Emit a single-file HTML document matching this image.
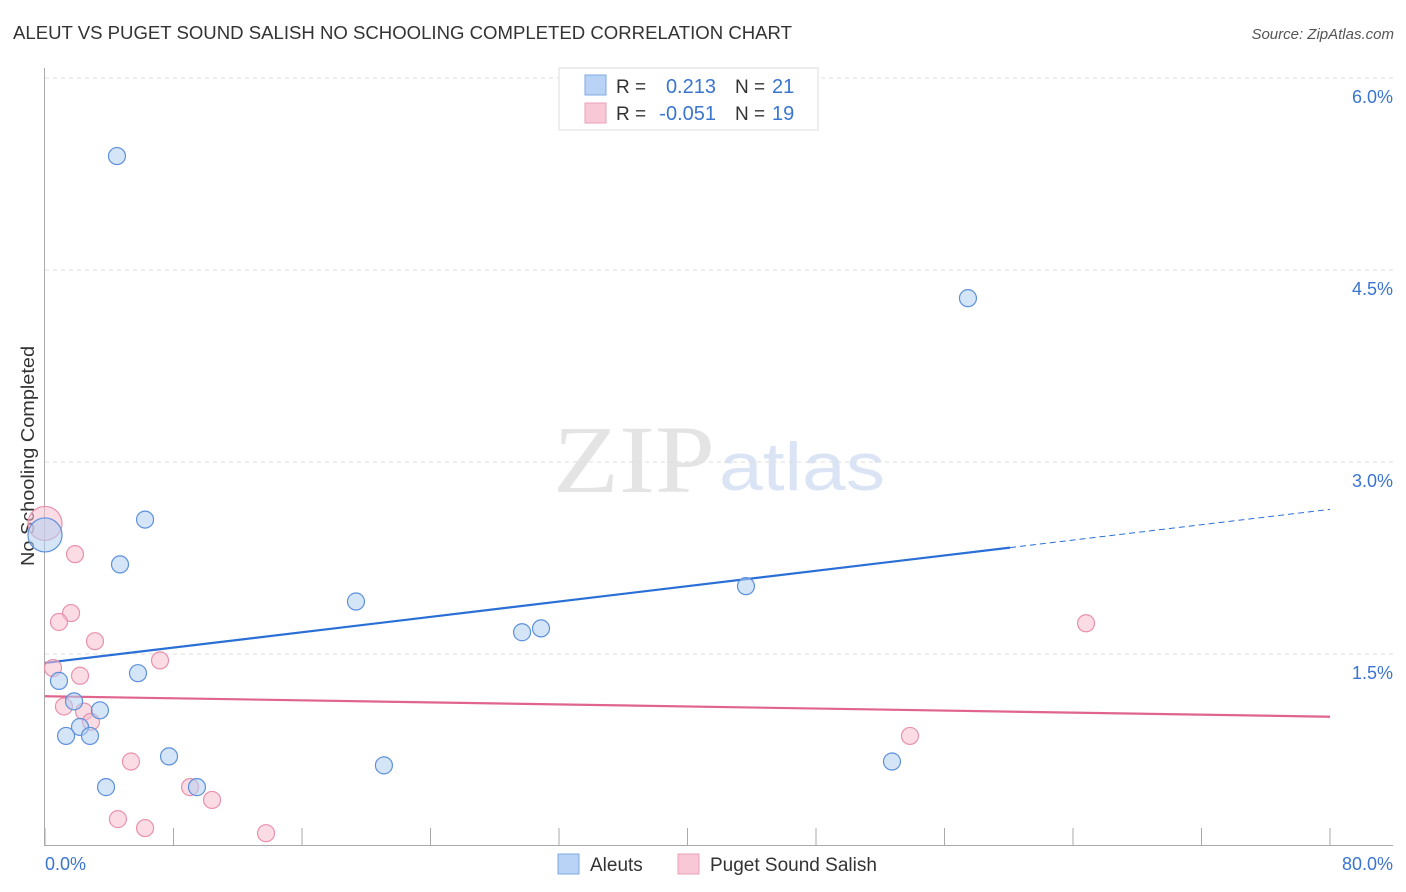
<!DOCTYPE html>
<html><head><meta charset="utf-8"><style>
body{margin:0;background:#fff;font-family:"Liberation Sans",sans-serif}
svg{display:block}
</style></head><body>
<svg width="1406" height="892" viewBox="0 0 1406 892">
<text x="13" y="39" font-size="18" fill="#333" textLength="779" lengthAdjust="spacingAndGlyphs">ALEUT VS PUGET SOUND SALISH NO SCHOOLING COMPLETED CORRELATION CHART</text>
<text x="1394" y="39" font-size="15" font-style="italic" fill="#555" text-anchor="end">Source: ZipAtlas.com</text>
<g opacity="0.9">
<text x="553" y="492" font-family="Liberation Serif,serif" font-size="96" fill="#e2e2e2" textLength="162" lengthAdjust="spacingAndGlyphs">ZIP</text>
<text x="719" y="490" font-size="68" fill="#d6e2f4" textLength="166" lengthAdjust="spacingAndGlyphs">atlas</text>
</g>
<g id="grid"></g>
<line x1="44.5" y1="68" x2="44.5" y2="846" stroke="#aaa"/>
<line x1="44" y1="845.5" x2="1393" y2="845.5" stroke="#aaa"/>
<text transform="translate(34,456) rotate(-90)" font-size="18" fill="#333" text-anchor="middle" textLength="220" lengthAdjust="spacingAndGlyphs">No Schooling Completed</text>
<text x="45" y="870" font-size="18" fill="#3a75d0">0.0%</text>
<text x="1393" y="870" font-size="18" fill="#3a75d0" text-anchor="end">80.0%</text>
<g id="lines"></g>
<g id="points"></g>
<g>
<rect x="559" y="68" width="259" height="62" fill="#fff" stroke="#ddd"/>
<rect x="585" y="75" width="21" height="20" fill="#b8d3f5" stroke="#7fa8e0"/>
<rect x="585" y="103" width="21" height="20" fill="#f9c8d6" stroke="#eaa0b6"/>
<text x="616" y="93" font-size="19" fill="#333">R = </text><text x="716" y="93" font-size="20" fill="#3a75d0" text-anchor="end">0.213</text>
<text x="735" y="93" font-size="19" fill="#333">N = </text><text x="772" y="93" font-size="20" fill="#3a75d0">21</text>
<text x="616" y="120" font-size="19" fill="#333">R = </text><text x="716" y="120" font-size="20" fill="#3a75d0" text-anchor="end">-0.051</text>
<text x="735" y="120" font-size="19" fill="#333">N = </text><text x="772" y="120" font-size="20" fill="#3a75d0">19</text>
</g>
<g>
<rect x="558" y="854" width="21" height="20" fill="#b8d3f5" stroke="#7fa8e0"/>
<text x="590" y="871" font-size="19" fill="#333">Aleuts</text>
<rect x="678" y="854" width="21" height="20" fill="#f9c8d6" stroke="#eaa0b6"/>
<text x="710" y="871" font-size="19" fill="#333">Puget Sound Salish</text>
</g>
</svg>
<script>
const yTicks=[1.5,3.0,4.5,6.0];
const yTickLabels=["1.5%","3.0%","4.5%","6.0%"];
const xTicks=[0,8,16,24,32,40,48,56,64,72,80];
const aleutX=[4.48,6.23,4.67,19.36,29.70,30.88,43.64,57.46,0.87,1.81,3.42,5.79,2.18,1.31,2.80,7.72,3.80,9.46,21.10,52.73,0];
const aleutY=[5.39,2.55,2.20,1.91,1.67,1.70,2.03,4.28,1.29,1.13,1.06,1.35,0.93,0.86,0.86,0.70,0.46,0.46,0.63,0.66,2.43];
const pugetX=[0,1.87,1.62,0.87,3.11,7.16,0.50,2.18,1.18,2.43,2.86,5.35,9.03,10.40,4.54,6.23,13.76,64.81,53.85];
const pugetY=[2.52,2.28,1.82,1.75,1.60,1.45,1.39,1.33,1.09,1.05,0.97,0.66,0.46,0.36,0.21,0.14,0.10,1.74,0.86];
const aleutTrend=[1.43,2.63];
const pugetTrend=[1.17,1.01];
const NS="http://www.w3.org/2000/svg";
const xs=v=>45+v/80*1285;
const ys=v=>846-v*128;
function mk(t,a,p){const e=document.createElementNS(NS,t);for(const k in a)e.setAttribute(k,a[k]);p.appendChild(e);return e;}
const grid=document.getElementById('grid');
yTicks.forEach((t,i)=>{
 const l=mk('line',{x1:45,x2:1393,y1:ys(t),y2:ys(t),stroke:'#ddd','stroke-dasharray':'4,4'},grid);
 
 
 const tx=mk('text',{x:1393,y:ys(t)+25,'font-size':18,fill:'#3a75d0','text-anchor':'end'},grid);
 tx.textContent=yTickLabels[i];
 
 
});
xTicks.forEach(t=>{
 const l=mk('line',{x1:xs(t),x2:xs(t),y1:828,y2:846,stroke:'#aaa'},grid);
 
 
});
const lines=document.getElementById('lines');
const split=60.08;
const ay=x=>aleutTrend[0]+(aleutTrend[1]-aleutTrend[0])*x/80;
let l1=mk('line',{x1:xs(0),y1:ys(ay(0)),x2:xs(split),y2:ys(ay(split)),stroke:'#2a6fd6','stroke-width':2.2},lines);


let l2=mk('line',{x1:xs(split),y1:ys(ay(split)),x2:xs(80),y2:ys(ay(80)),stroke:'#2a6fd6','stroke-width':1,'stroke-dasharray':'6,4'},lines);


let l3=mk('line',{x1:xs(0),y1:ys(pugetTrend[0]),x2:xs(80),y2:ys(pugetTrend[1]),stroke:'#e0648e','stroke-width':2.2},lines);


const pts=document.getElementById('points');
function dots(X,Y,fill,stroke,name){
 X.forEach((x,i)=>{
  const big=(x===0);
  const c=mk('circle',{cx:xs(x),cy:ys(Y[i]),r:big?17:8.5,fill:fill,'fill-opacity':0.55,stroke:stroke,'stroke-width':1.2},pts);
  
  
 });
}
dots(pugetX,pugetY,'#f7bfd0','#e991ad','puget-point');
dots(aleutX,aleutY,'#b3cff3','#5d90db','aleut-point');
</script>
</body></html>
